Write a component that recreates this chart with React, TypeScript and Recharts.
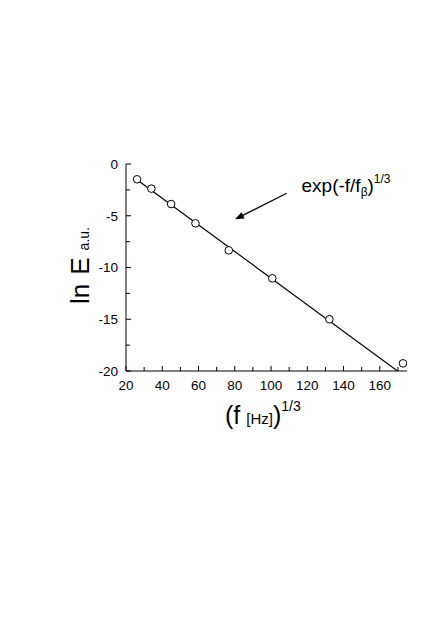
import React from 'react';
import { ComposedChart, XAxis, YAxis, Line, Scatter, Customized } from 'recharts';

const xValues = [26.1, 34.0, 44.9, 58.3, 76.7, 100.7, 132.2, 172.8];
const yValues = [-1.48, -2.38, -3.87, -5.73, -8.34, -11.05, -15.0, -19.26];
const fitX = [25.5, 172.5];
const fitY = [-1.45, -20.35];
const xTicks = [20, 30, 40, 50, 60, 70, 80, 90, 100, 110, 120, 130, 140, 150, 160, 170];
const xTickLabels = [20, 40, 60, 80, 100, 120, 140, 160];
const yTicks = [0, -2.5, -5, -7.5, -10, -12.5, -15, -17.5, -20];
const yTickLabels = [0, -5, -10, -15, -20];

const points = xValues.map((x, i) => ({ x, y: yValues[i] }));
const fitLine = fitX.map((x, i) => ({ x, fit: fitY[i] }));

const FONT = '"Liberation Sans", Arial, sans-serif';

const XTick = (props: any) => {
  const { x, y, payload } = props;
  const major = xTickLabels.includes(payload.value);
  return (
    <g>
      <line x1={x} y1={y} x2={x} y2={y - (major ? 5 : 4)} stroke="#000" strokeWidth={1} />
      {major && (
        <text x={x} y={y + 18.5} textAnchor="middle" fontSize={13.5} fontFamily={FONT} fill="#000">
          {payload.value}
        </text>
      )}
    </g>
  );
};

const YTick = (props: any) => {
  const { x, y, payload } = props;
  const major = yTickLabels.includes(payload.value);
  return (
    <g>
      <line x1={x} y1={y} x2={x + (major ? 5 : 4)} y2={y} stroke="#000" strokeWidth={1} />
      {major && (
        <text x={x - 8} y={y} dy="0.36em" textAnchor="end" fontSize={13.5} fontFamily={FONT} fill="#000">
          {payload.value}
        </text>
      )}
    </g>
  );
};

const Circle = (props: any) => {
  const { cx, cy } = props;
  return <circle cx={cx} cy={cy} r={3.8} fill="#fff" stroke="#000" strokeWidth={1} />;
};

const Annotations = () => {
  const x1 = 286.7, y1 = 193.3, x2 = 235, y2 = 219.3;
  const dx = x2 - x1, dy = y2 - y1;
  const len = Math.sqrt(dx * dx + dy * dy);
  const ux = dx / len, uy = dy / len;
  const hl = 9, hw = 3.5;
  const bx = x2 - ux * hl, by = y2 - uy * hl;
  const p1 = `${x2},${y2}`;
  const p2 = `${bx - uy * hw},${by + ux * hw}`;
  const p3 = `${bx + uy * hw},${by - ux * hw}`;
  return (
    <g fontFamily={FONT} fill="#000">
      <line x1={x1} y1={y1} x2={bx + ux * 2} y2={by + uy * 2} stroke="#000" strokeWidth={1.2} />
      <polygon points={`${p1} ${p2} ${p3}`} fill="#000" />
      <text x={301.5} y={191.5} fontSize={19}>
        exp(-f/f
        <tspan fontSize={12} dy={4}>β</tspan>
        <tspan fontSize={19} dy={-4}>)</tspan>
        <tspan fontSize={12} dy={-9}>1/3</tspan>
      </text>
      <text x={225} y={424} fontSize={25}>
        (f
        <tspan fontSize={15} dx={6}>[Hz]</tspan>
        <tspan fontSize={25}>)</tspan>
        <tspan fontSize={14} dy={-13}>1/3</tspan>
      </text>
      <g transform="translate(89, 304) rotate(-90)">
        <text x={0} y={0} fontSize={26}>
          ln
          <tspan dx={9}>E</tspan>
          <tspan fontSize={14} dx={7}>a.u.</tspan>
        </text>
      </g>
    </g>
  );
};

export default function App() {
  return (
    <div style={{ position: 'absolute', left: 0, top: 0, width: 436, height: 617, background: '#fff' }}>
      <ComposedChart
        width={436}
        height={617}
        margin={{ top: 164, right: 29, bottom: 216, left: 86 }}
      >
        <XAxis
          type="number"
          dataKey="x"
          domain={[20, 175]}
          ticks={xTicks}
          interval={0}
          allowDataOverflow
          height={30}
          tickSize={0}
          tickMargin={0}
          tickLine={false}
          tick={<XTick />}
          axisLine={{ stroke: '#000', strokeWidth: 1 }}
        />
        <YAxis
          type="number"
          domain={[-20, 0]}
          ticks={yTicks}
          interval={0}
          allowDataOverflow
          width={40}
          tickSize={0}
          tickMargin={0}
          tickLine={false}
          tick={<YTick />}
          axisLine={{ stroke: '#000', strokeWidth: 1 }}
        />
        <Line
          data={fitLine}
          dataKey="fit"
          stroke="#000"
          strokeWidth={1.2}
          dot={false}
          activeDot={false}
          isAnimationActive={false}
        />
        <Scatter data={points} dataKey="y" shape={<Circle />} isAnimationActive={false} />
        <Customized component={Annotations} />
      </ComposedChart>
    </div>
  );
}
